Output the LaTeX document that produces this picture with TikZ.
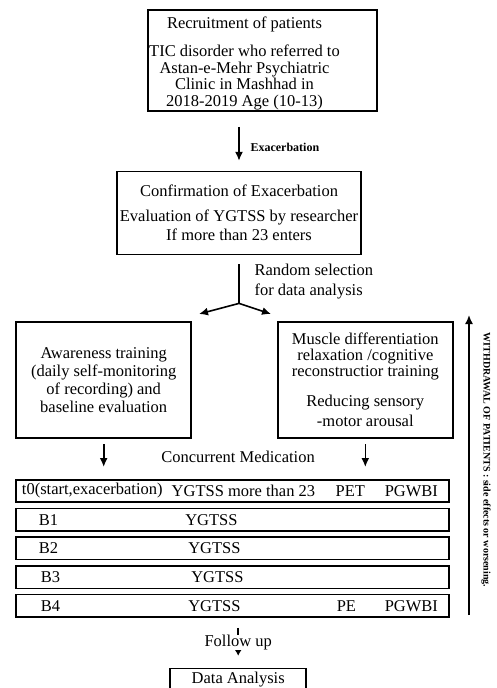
\documentclass[tikz,border=0pt]{standalone}
\usepackage{fontspec}
\setmainfont{Liberation Serif}
\usetikzlibrary{shapes,arrows.meta,positioning}

\begin{document}
\begin{tikzpicture}[
        x=1pt, y=-1pt,
        node distance=5pt,
        every node/.style={font=\fontsize{16.5}{17}\selectfont},
        block/.style={
            rectangle,
            draw,
            line width=1.6pt,
            align=center,
            inner sep=2pt
        },
        rowbox/.style={
            rectangle,
            draw,
            line width=1.6pt,
            minimum width=433pt,
            minimum height=22.4pt,
            inner sep=0pt
        },
        tag/.style={font=\bfseries\fontsize{12}{14}\selectfont},
        line/.style={draw, -{Latex[length=9pt,width=8pt]}, line width=1.6pt},
        link/.style={draw, line width=1.6pt}
    ]
        \clip (0,0) rectangle (497,688);

        % -- Nodes --

        % Recruitment
        \node [block, minimum width=229pt, minimum height=101pt] (recruit) at (262.5,60.5) {};
        \node [align=center] (recruittxt) at ([xshift=-18pt,yshift=-3pt]recruit.center)
            {Recruitment of patients\\[11pt] TIC disorder who referred to\\ Astan-e-Mehr Psychiatric\\[-1pt] Clinic in Mashhad in\\[0pt] 2018-2019 Age (10-13)};
        \node [tag, anchor=west] (exac) at (247,147) {Exacerbation};

        % Confirmation
        \node [block, minimum width=244pt, minimum height=83pt, below=59pt of recruit, xshift=-23.5pt] (confirm)
            {Confirmation of Exacerbation\\[8pt] Evaluation of YGTSS by researcher\\[2pt] If more than 23 enters};
        \node [anchor=west, align=left] (random) at (251,282) {Random selection\\[3pt] for data analysis};
        \coordinate (split) at ([yshift=-48pt]confirm.south);
        \coordinate (toleft) at (199,314);
        \coordinate (toright) at (271,314);

        % Two arms
        \node [block, minimum width=175pt, minimum height=116pt, below left=66pt and 47pt of confirm.south] (awareness)
            {Awareness training\\[1pt] (daily self-monitoring\\[1pt] of recording) and\\[1pt] baseline evaluation};
        \node [block, minimum width=175pt, minimum height=116pt, below right=66pt and 38pt of confirm.south] (muscle)
            {Muscle differentiation\\[-1pt] relaxation /cognitive\\[-1pt] reconstructior training\\[13pt] Reducing sensory\\[3pt] -motor arousal};

        \node (concur) at (238,457) {Concurrent Medication};

        % Assessment rows
        \node [rowbox, below right=40pt and 0pt of awareness.south west] (t0) {};
        \node [rowbox, below=4.7pt of t0] (B1) {};
        \node [rowbox, below=4.7pt of B1] (B2) {};
        \node [rowbox, below=4.7pt of B2] (B3) {};
        \node [rowbox, below=4.7pt of B3] (B4) {};

        \node [anchor=west] (t0a) at ([xshift=3pt]t0.west) {t0(start,exacerbation)};
        \node (t0b) at ([xshift=228pt]t0.west) {YGTSS more than 23};
        \node (t0c) at ([xshift=335pt]t0.west) {PET};
        \node (t0d) at ([xshift=396pt]t0.west) {PGWBI};

        \node (B1a) at ([xshift=33pt]B1.west) {B1};
        \node (B1b) at ([xshift=196pt]B1.west) {YGTSS};
        \node (B2a) at ([xshift=33pt]B2.west) {B2};
        \node (B2b) at ([xshift=199pt]B2.west) {YGTSS};
        \node (B3a) at ([xshift=35pt]B3.west) {B3};
        \node (B3b) at ([xshift=202pt]B3.west) {YGTSS};
        \node (B4a) at ([xshift=35pt]B4.west) {B4};
        \node (B4b) at ([xshift=199pt]B4.west) {YGTSS};
        \node (B4c) at ([xshift=331pt]B4.west) {PE};
        \node (B4d) at ([xshift=396pt]B4.west) {PGWBI};

        % End
        \node [block, minimum width=136pt, minimum height=22pt, inner sep=0pt, below=50pt of B4, xshift=5.5pt] (data) {Data Analysis};

        % Withdrawal
        \coordinate (wdbot) at (469,615);
        \coordinate (wdtop) at (469,315);
        \node [rotate=-90, font=\bfseries\fontsize{10}{12}\selectfont] (withdraw) at (486,460)
            {WITHDRAWAL OF PATIENTS : side effects or worsening.};

        % -- Paths --
        \path [line, shorten <=15pt, shorten >=10pt] (recruit.south -| confirm.north) -- (confirm.north);
        \path [link, shorten <=9pt] (confirm.south) -- (split);
        \path [line] (split) -- (toleft);
        \path [line] (split) -- (toright);

        \path [line, shorten <=5pt, shorten >=12pt] (awareness.south) -- (awareness.south |- t0.north);
        \path [line, shorten <=5pt, shorten >=12pt] (muscle.south) -- (muscle.south |- t0.north);

        \path [line] (wdbot) -- (wdtop);

        \path [line, -{Latex[length=6pt,width=7pt]}, shorten <=10pt, shorten >=12pt] (B4.south -| data.north)
            -- node [fill=white, inner sep=0pt] (follow) {Follow up} (data.north);

    \end{tikzpicture}
\end{document}
